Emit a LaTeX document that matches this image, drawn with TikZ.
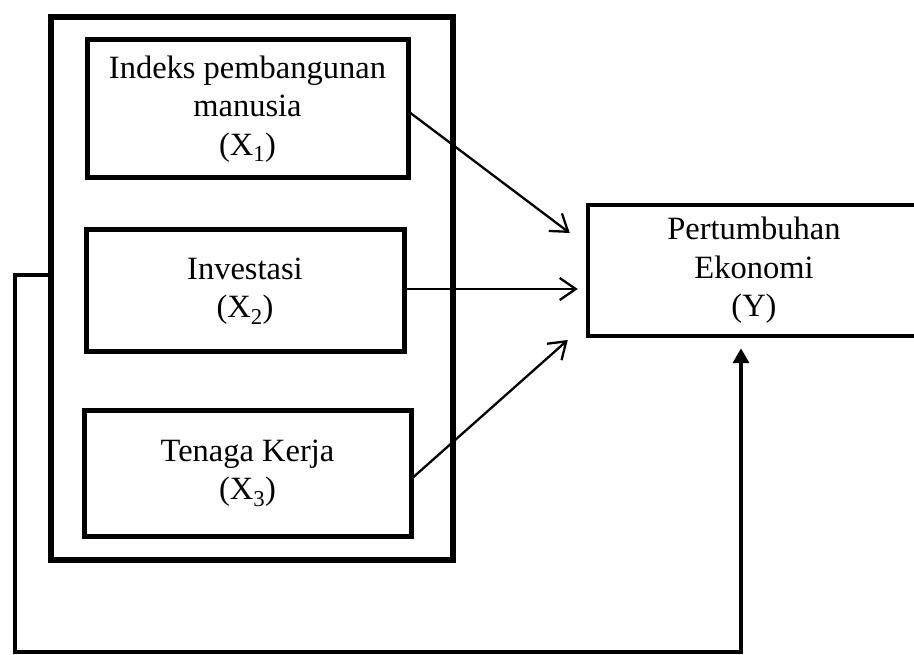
\documentclass[tikz,border=0pt]{standalone}
\usepackage{fontspec}
\setmainfont{Liberation Serif}
\usetikzlibrary{arrows.meta}
\begin{document}
\begin{tikzpicture}[x=1pt,y=1pt,
  varbox/.style={draw,line width=5pt,inner sep=0pt,align=center,
    font=\fontsize{32.5}{38.5}\selectfont},
  openarrow/.style={line width=2.3pt,-{Straight Barb[length=16pt,width=22pt,line width=2.3pt]}},
  fbline/.style={line width=4.5pt,line join=miter,-{Triangle[length=15pt,width=16pt]}}
]
\useasboundingbox (0,0) rectangle (914,-655);
\clip (0,0) rectangle (914,-655);
\node[draw,line width=5.5pt,minimum width=402pt,minimum height=543pt,inner sep=0pt] (frame) at (252,-288.5) {};
\node[varbox,minimum width=321pt,minimum height=138pt] (b1) at (247.5,-109) {Indeks pembangunan\\manusia\\(X\textsubscript{1})};
\node[varbox,minimum width=318pt,minimum height=122pt] (b2) at (245,-291) {Investasi\\(X\textsubscript{2})};
\node[varbox,minimum width=327pt,minimum height=126pt] (b3) at (247.5,-473) {Tenaga Kerja\\(X\textsubscript{3})};
\node[varbox,line width=4.5pt,minimum width=332pt,minimum height=131pt] (Y) at (754,-270.5) {Pertumbuhan\\Ekonomi\\(Y)};
\coordinate (f1) at (15,-275);
\coordinate (f2) at (15,-652);
\coordinate (f3) at (741,-652);
\draw[openarrow] ([yshift=-4pt]b1.east) -- ([xshift=-16pt,yshift=37.5pt]Y.west);
\draw[openarrow] ([yshift=2pt]b2.east) -- ([xshift=-8pt,yshift=-18.5pt]Y.west);
\draw[openarrow] ([yshift=-4pt]b3.east) -- ([xshift=-18pt,yshift=-69.5pt]Y.west);
\draw[fbline,shorten >=10pt] ([yshift=13.5pt]frame.west) -- (f1) -- (f2) -- (f3) -- (Y.south -| f3);
\end{tikzpicture}
\end{document}
